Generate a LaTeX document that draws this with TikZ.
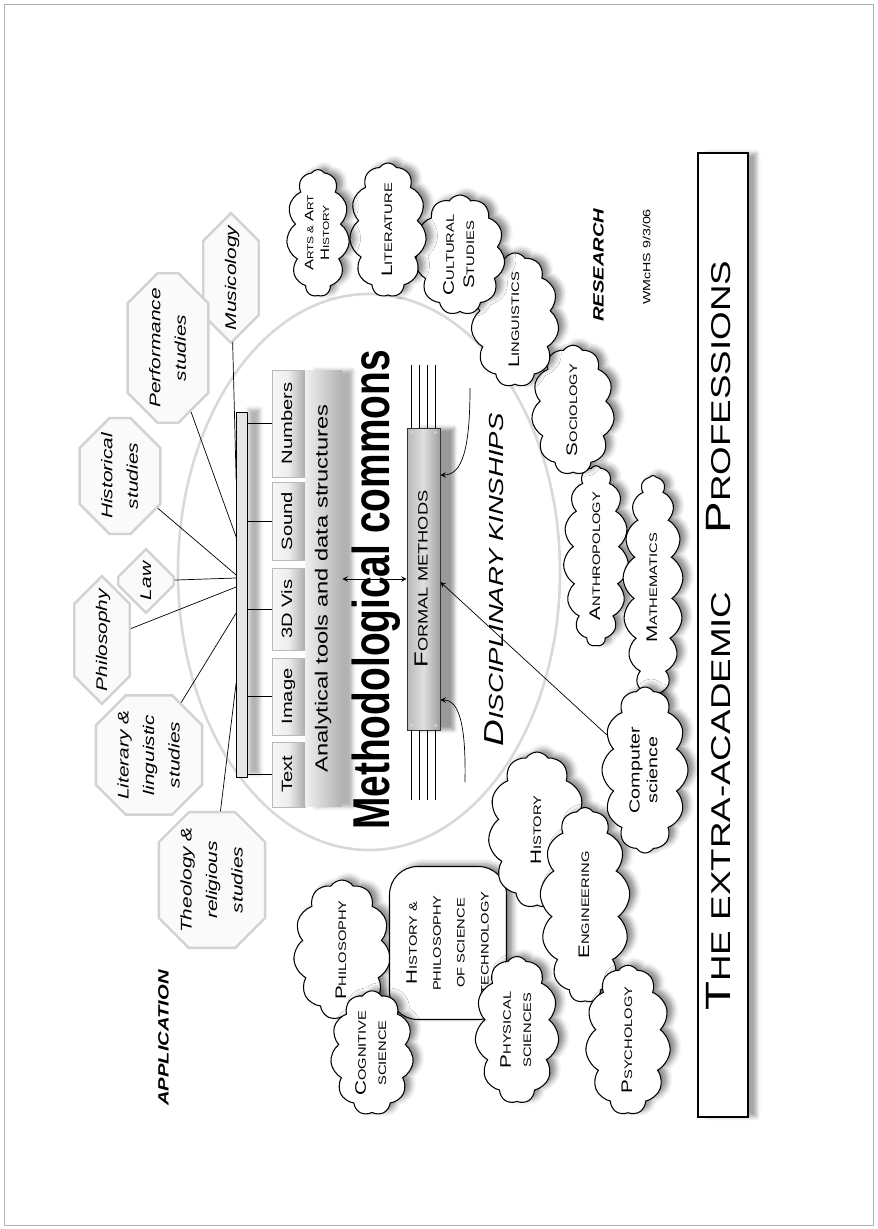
\documentclass[tikz,border=0pt]{standalone}
\usepackage{fontspec}
\setmainfont{Liberation Sans}
\usepackage{graphicx}
\usetikzlibrary{arrows,calc,shapes.symbols,shapes.misc,shadows.blur}

% upright-reading label, widened like the original
\newcommand{\vtext}[2][1.35]{\rotatebox{90}{\scalebox{#1}[1]{\begin{tabular}{@{}c@{}}#2\end{tabular}}}}
% big first letter, small rest
\newcommand{\scap}[2]{{\fontsize{8.7}{9}\selectfont #1}#2}

\tikzset{
    octo/.style = {chamfered rectangle, chamfered rectangle xsep=0.3cm, chamfered rectangle ysep=0.3cm,
        draw=gray!35, line width=1.4pt, fill=gray!4, inner sep=0pt,
        font=\fontsize{8.8}{14.5}\selectfont\itshape},
    puff/.style = {cloud, cloud puffs=11, cloud puff arc=115, cloud ignores aspect,
        draw, line width=0.6pt, fill=white, inner sep=0pt,
        blur shadow={shadow xshift=3.5pt, shadow yshift=1.5pt, shadow opacity=45, shadow blur radius=3pt},
        font=\fontsize{6.2}{11.5}\selectfont},
    module/.style = {draw=gray!55, left color=gray!6, right color=gray!65, middle color=gray!14,
        minimum width=0.66cm, inner sep=0pt, font=\fontsize{8.5}{10}\selectfont},
}

\begin{document}
\begin{tikzpicture}[x=0.02cm, y=-0.02cm, >=stealth]
    \useasboundingbox (0,0) rectangle (877,1229);
    \draw [gray!60] (4,4) rectangle (873,1225);

    % Ring
    \draw [gray!30, line width=1.5pt] (369,572) ellipse [x radius=191, y radius=278];

    % Application
    \node (musicology) [octo, minimum width=0.84cm, minimum height=2.2cm] at (231,278) {\vtext{Musicology}};
    \node (performance) [octo, minimum width=1.5cm, minimum height=2.46cm] at (168,348) {\vtext{Performance\\studies}};
    \node (historical) [octo, minimum width=1.08cm, minimum height=2.32cm] at (120,476) {\vtext{Historical\\studies}};
    \node (law) [octo, minimum width=0.8cm, minimum height=1.1cm] at (146,581) {\vtext{Law}};
    \node (philosophy) [octo, minimum width=0.96cm, minimum height=2.06cm] at (102,640) {\vtext{Philosophy}};
    \node (lit-ling) [octo, minimum width=1.74cm, minimum height=2.34cm] at (149,755) {\vtext{Literary \&\\linguistic\\studies}};
    \node (theology) [octo, minimum width=2cm, minimum height=2.6cm] at (212,880) {\vtext{Theology \&\\religious\\studies}};

    % Tools
    \node (bar) [draw, fill=gray!20, minimum width=0.22cm, minimum height=7.3cm, inner sep=0pt,
        blur shadow={shadow xshift=7pt, shadow yshift=2pt, shadow opacity=30}] at (242,595) {};
    \node (num) [module, minimum height=2.14cm] at (288.5,423.5) {\vtext{Numbers}};
    \node (sound) [module, minimum height=1.56cm] at (288.5,521) {\vtext{Sound}};
    \node (vis) [module, minimum height=1.64cm] at (288.5,609) {\vtext{3D Vis}};
    \node (image) [module, minimum height=1.54cm] at (288.5,696.5) {\vtext{Image}};
    \node (txt) [module, minimum height=1.3cm] at (288.5,774.5) {\vtext{Text}};
    \node (analytic) [left color=gray!12, right color=gray!60, minimum width=0.74cm, minimum height=8.74cm,
        inner sep=0pt, blur shadow={shadow xshift=6pt, shadow yshift=0pt, shadow opacity=30},
        font=\fontsize{10}{12}\selectfont] at (323.5,588.5) {\vtext{Analytical tools and data structures}};
    \node (commons) at (376,590) {\vtext[0.75]{\fontsize{29.5}{30}\selectfont\bfseries Methodological commons}};

    \node (formal) [draw=gray!40!black, left color=gray!55, right color=gray!75, middle color=gray!25,
        minimum width=0.66cm, minimum height=6.04cm, inner sep=0pt,
        blur shadow={shadow xshift=8pt, shadow yshift=0pt, shadow opacity=40},
        font=\fontsize{7.7}{9}\selectfont] at (423.5,579) {\vtext{{\fontsize{10.8}{11}\selectfont F}ORMAL METHODS}};
    \foreach \dx in {-12,-4,4,12} {
        \draw ($(formal.north)+(\dx,0)$) -- ++(0,-63);
        \draw ($(formal.south)+(\dx,0)$) -- ++(0,70);
        \fill [gray!35] ($(formal.north)+(\dx,5)$) circle (1pt);
        \fill [gray!35] ($(formal.south)+(\dx,-5)$) circle (1pt);
    }
    \coordinate (curve-top) at (470,388);
    \coordinate (curve-bot) at (465,782);

    \node (kinships) [font=\fontsize{11.6}{12}\selectfont\itshape] at (497,580) {\vtext{{\fontsize{15.6}{16}\selectfont D}ISCIPLINARY KINSHIPS}};

    % Research
    \node (philo) [puff, minimum width=1.94cm, minimum height=2.8cm] at (342,950) {\vtext{\scap{P}{HILOSOPHY}}};
    \node (hps) [draw, line width=0.6pt, fill=white, rounded corners=16pt, minimum width=2.34cm, minimum height=3.06cm,
        inner sep=0pt, font=\fontsize{6.2}{13.6}\selectfont,
        blur shadow={shadow xshift=3.5pt, shadow yshift=1.5pt, shadow opacity=45, shadow blur radius=3pt}]
        at (448,943) {\vtext{\scap{H}{ISTORY} \&\\PHILOSOPHY\\OF SCIENCE\\TECHNOLOGY}};
    \node (cognitive) [puff, minimum width=1.66cm, minimum height=2.26cm] at (372,1053) {\vtext{\scap{C}{OGNITIVE}\\SCIENCE}};
    \node (physical) [puff, minimum width=1.68cm, minimum height=2.94cm] at (517,1030) {\vtext{\scap{P}{HYSICAL}\\SCIENCES}};
    \node (history) [puff, minimum width=1.95cm, minimum height=3.12cm] at (537,830) {\vtext{\scap{H}{ISTORY}}};
    \node (engineering) [puff, cloud puffs=13, minimum width=1.8cm, minimum height=3.9cm] at (585,905) {\vtext{\scap{E}{NGINEERING}}};
    \node (psychology) [puff, minimum width=1.7cm, minimum height=2.9cm] at (628,1040) {\vtext{\scap{P}{SYCHOLOGY}}};
    \node (anthropology) [puff, cloud puffs=15, minimum width=1.3cm, minimum height=3.44cm] at (596,556) {\vtext{\scap{A}{NTHROPOLOGY}}};
    \node (mathematics) [puff, cloud puffs=17, minimum width=1.2cm, minimum height=4.5cm] at (653,588) {\vtext{\scap{M}{ATHEMATICS}}};
    \node (compsci) [puff, cloud puffs=12, minimum width=1.72cm, minimum height=3.32cm, font=\fontsize{8.3}{10}\selectfont] at (645,770) {\vtext{Computer\\science}};
    \node (sociology) [puff, minimum width=1.66cm, minimum height=2.52cm] at (573,410) {\vtext{\scap{S}{OCIOLOGY}}};
    \node (linguistics) [puff, minimum width=1.76cm, minimum height=2.56cm] at (515,320) {\vtext{\scap{L}{INGUISTICS}}};
    \node (cultural) [puff, minimum width=1.8cm, minimum height=2.4cm] at (460,255) {\vtext{\scap{C}{ULTURAL}\\\scap{S}{TUDIES}}};
    \node (literature) [puff, minimum width=1.54cm, minimum height=2.68cm] at (388,230) {\vtext{\scap{L}{ITERATURE}}};
    \node (arts) [puff, minimum width=1.26cm, minimum height=2.54cm, font=\fontsize{5}{9}\selectfont] at (318,233) {\vtext{{\fontsize{7}{8}\selectfont A}RTS \& {\fontsize{7}{8}\selectfont A}RT\\{\fontsize{7}{8}\selectfont H}ISTORY}};

    \node (application) [font=\fontsize{8.5}{10}\selectfont\bfseries\itshape] at (165,1038) {\vtext{APPLICATION}};
    \node (research) [font=\fontsize{8.5}{10}\selectfont\bfseries\itshape] at (600,265) {\vtext{RESEARCH}};
    \node (stamp) [font=\fontsize{6}{7}\selectfont] at (648,257) {\vtext{WMcHS 9/3/06}};

    % Professions
    \node (extra-box) [draw, line width=0.9pt, fill=white, minimum width=1cm, minimum height=19.28cm, inner sep=0pt,
        blur shadow={shadow xshift=5pt, shadow yshift=0pt, shadow opacity=35}] at (723,635) {};
    \node (extra) [font=\fontsize{15.5}{16}\selectfont] at (723,801) {\vtext{{\fontsize{20}{20}\selectfont T}HE EXTRA-ACADEMIC}};
    \node (prof) [font=\fontsize{15.5}{16}\selectfont] at (723,397) {\vtext{{\fontsize{20}{20}\selectfont P}ROFESSIONS}};

    % Arrows
    \foreach \m in {num,sound,vis,image,txt}
        \draw (bar.east |- \m.west) -- (\m.west);
    \draw (musicology) -- (bar.west |- 0,480);
    \draw (performance) -- (bar.west |- 0,537);
    \draw (historical) -- (bar.west |- 0,575);
    \draw (law) -- (bar.west |- 0,578);
    \draw (philosophy) -- (bar.west |- 0,587);
    \draw (lit-ling) -- (bar.west |- 0,613);
    \draw (theology) -- (bar.west |- 0,683);

    \draw [<->] (formal.west -| analytic.east) -- (formal.west);
    \draw [->] (curve-top) .. controls (470,450) and (462,475) .. (formal.east |- 0,475);
    \draw [->] (curve-bot) .. controls (466,728) and (460,700) .. (formal.east |- 0,700);
    \draw [->] (compsci) -- (formal.east |- 0,582);

\end{tikzpicture}
\end{document}
